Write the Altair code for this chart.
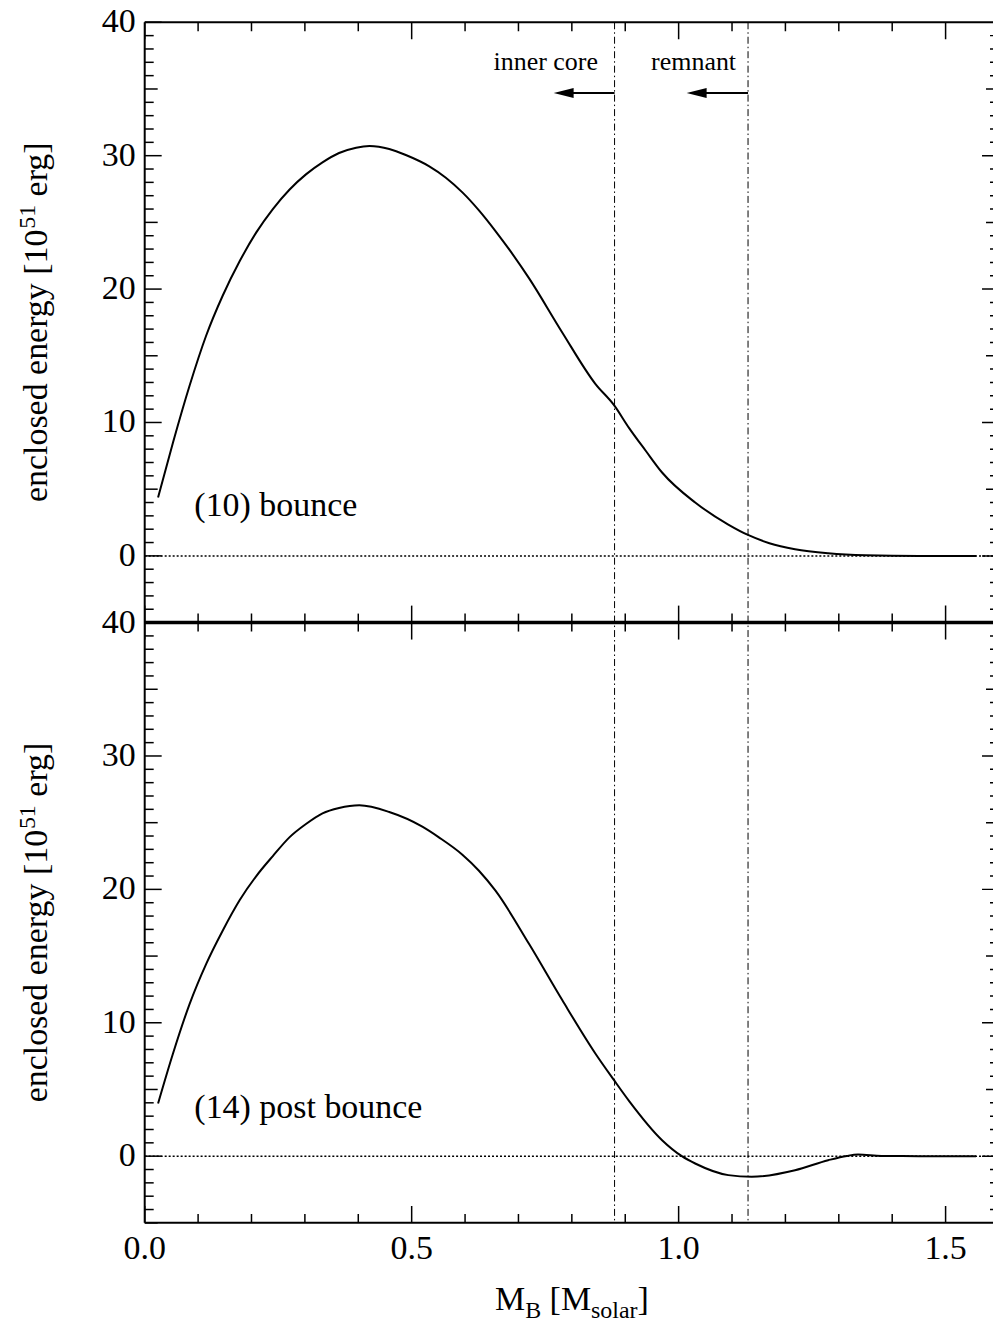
import altair as alt
import pandas as pd

FONT = "Liberation Serif"

# ---- data ----
top_mass = [0.025, 0.053, 0.084, 0.115, 0.146, 0.178, 0.209, 0.240, 0.271, 0.302,
            0.333, 0.364, 0.396, 0.421, 0.458, 0.489, 0.533, 0.564, 0.595, 0.626,
            0.657, 0.720, 0.782, 0.844, 0.879, 0.907, 0.938, 0.969, 1.031, 1.093,
            1.131, 1.170, 1.218, 1.280, 1.350, 1.450, 1.557]
top_energy = [4.37, 8.5, 12.75, 16.5, 19.5, 22.1, 24.25, 26.0, 27.45, 28.6,
              29.5, 30.2, 30.6, 30.72, 30.5, 30.05, 29.2, 28.35, 27.25, 25.9,
              24.35, 20.8, 16.75, 12.9, 11.3, 9.6, 7.9, 6.25, 4.0, 2.35,
              1.55, 0.95, 0.5, 0.2, 0.05, 0.0, 0.0]

bot_mass = [0.025, 0.053, 0.084, 0.115, 0.146, 0.178, 0.209, 0.240, 0.271, 0.302,
            0.333, 0.364, 0.402, 0.458, 0.520, 0.551, 0.595, 0.626, 0.657, 0.720,
            0.782, 0.844, 0.879, 0.907, 0.969, 1.006, 1.031, 1.093, 1.137, 1.218,
            1.280, 1.315, 1.336, 1.380, 1.450, 1.557]
bot_energy = [3.95, 7.7, 11.4, 14.4, 16.9, 19.2, 21.0, 22.5, 23.9, 24.9,
              25.7, 26.1, 26.3, 25.8, 24.7, 23.9, 22.6, 21.4, 19.9, 15.9,
              11.7, 7.7, 5.7, 4.15, 1.2, 0.0, -0.55, -1.42, -1.55, -1.05,
              -0.3, 0.02, 0.12, 0.02, 0.0, 0.0]

boundary_masses = [0.88, 1.13]          # inner core, remnant
arrow_tips = [0.766, 1.015]
region_labels = ["inner core", "remnant"]
region_label_mass = [0.751, 1.028]
panel_labels = ["(10) bounce", "(14) post bounce"]

x_tick_pos = [0.0, 0.5, 1.0, 1.5]
x_tick_text = ["0.0", "0.5", "1.0", "1.5"]
y_tick_pos = [0, 10, 20, 30, 40]
y_tick_text = ["0", "10", "20", "30", "40"]
x_major_ticks = [0.0, 0.5, 1.0, 1.5]
x_minor_ticks = [0.1, 0.2, 0.3, 0.4, 0.6, 0.7, 0.8, 0.9, 1.1, 1.2, 1.3, 1.4, 1.6]
y_major_ticks = [0, 10, 20, 30, 40]
y_medium_ticks = [-5, 5, 15, 25, 35]
y_minor_ticks = [v for v in range(-4, 40) if v % 5 != 0]

# the two panels share one vertical axis: the upper panel is drawn one panel span higher
SHIFT = 45
X_MAX = 1.6                 # right frame of the original figure (just off the page)
X_VISIBLE = 1.5888          # part of the axis that fits on the page
W = 850
H = 1203
MID = H / 2
RIGHT_EDGE = W * X_MAX / X_VISIBLE   # pixel position of the (clipped) right frame

xscale = alt.Scale(domain=[0, X_VISIBLE], nice=False, zero=False)
yscale = alt.Scale(domain=[-5, 40 + SHIFT], nice=False, zero=False)


def X(f):
    return alt.X(f, scale=xscale, axis=None)


def Y(f):
    return alt.Y(f, scale=yscale, axis=None)


layers = []

# frame (left, top, bottom; right side lies beyond the page)
for enc in [dict(x=alt.value(0), y=alt.value(0), y2=alt.value(H)),
            dict(y=alt.value(0), x=alt.value(0), x2=alt.value(W)),
            dict(y=alt.value(H), x=alt.value(0), x2=alt.value(W))]:
    layers.append(alt.Chart(pd.DataFrame({"a": [0]})).mark_rule(
        color="black", strokeWidth=2).encode(**enc))

# zero lines
layers.append(alt.Chart(pd.DataFrame({"z": [0, SHIFT]})).mark_rule(
    color="black", strokeWidth=1.5, strokeDash=[2, 2]).encode(y=Y("z:Q")))

# vertical boundaries through both panels
layers.append(alt.Chart(pd.DataFrame({"b": boundary_masses})).mark_rule(
    color="black", strokeWidth=1, strokeDash=[7, 3, 1.5, 3]).encode(x=X("b:Q")))

# curves
layers.append(alt.Chart(pd.DataFrame({"m": bot_mass, "e": bot_energy})).mark_line(
    color="black", strokeWidth=2, interpolate="monotone").encode(x=X("m:Q"), y=Y("e:Q")))
layers.append(alt.Chart(pd.DataFrame({"m": top_mass, "e": top_energy})).transform_calculate(
    es=f"datum.e + {SHIFT}").mark_line(
    color="black", strokeWidth=2, interpolate="monotone").encode(x=X("m:Q"), y=Y("es:Q")))

# middle boundary line
layers.append(alt.Chart(pd.DataFrame({"z": [40]})).mark_rule(
    color="black", strokeWidth=3.5).encode(y=Y("z:Q")))

# y ticks (inward, both sides; right ones hang from the clipped right frame)
def ytick_vals(vals):
    return vals + [v + SHIFT for v in vals if v + SHIFT != 40]

for vals, ln in [(ytick_vals(y_minor_ticks), 9), (ytick_vals(y_medium_ticks), 13),
                 (ytick_vals(y_major_ticks), 17)]:
    df = pd.DataFrame({"v": vals})
    layers.append(alt.Chart(df).mark_rule(color="black", strokeWidth=1.5).encode(
        y=Y("v:Q"), x=alt.value(0), x2=alt.value(ln)))
    layers.append(alt.Chart(df).mark_rule(color="black", strokeWidth=1.5, clip=True).encode(
        y=Y("v:Q"), x=alt.value(RIGHT_EDGE), x2=alt.value(RIGHT_EDGE - ln)))

# x ticks: bottom, top and on the shared middle edge (both directions)
for vals, ln in [(x_minor_ticks, 9), (x_major_ticks, 17)]:
    df = pd.DataFrame({"v": vals})
    for y1, y2 in [(H, H - ln), (0, ln), (MID - ln, MID + ln)]:
        layers.append(alt.Chart(df).mark_rule(color="black", strokeWidth=1.5, clip=True).encode(
            x=X("v:Q"), y=alt.value(y1), y2=alt.value(y2)))

# tick labels
ylab = pd.DataFrame({"yp": y_tick_pos, "yt": y_tick_text})
layers.append(alt.Chart(ylab).mark_text(
    font=FONT, fontSize=34, align="right", baseline="middle", color="black").encode(
    text="yt:N", x=alt.value(-9), y=Y("yp:Q")))
layers.append(alt.Chart(ylab).transform_calculate(pos=f"datum.yp + {SHIFT}").mark_text(
    font=FONT, fontSize=34, align="right", baseline="middle", color="black").encode(
    text="yt:N", x=alt.value(-9), y=Y("pos:Q")))
xlab = pd.DataFrame({"xp": x_tick_pos, "xt": x_tick_text})
layers.append(alt.Chart(xlab).mark_text(
    font=FONT, fontSize=34, align="center", baseline="alphabetic", color="black").encode(
    text="xt:N", x=X("xp:Q"), y=alt.value(H + 36)))

# panel labels (placed in data coordinates)
plab = pd.DataFrame({"t": panel_labels, "m": [0.093, 0.093], "e": [3.0 + SHIFT, 2.85]})
layers.append(alt.Chart(plab).mark_text(
    font=FONT, fontSize=34, align="left", baseline="alphabetic", color="black").encode(
    text="t:N", x=X("m:Q"), y=Y("e:Q")))

# region annotations with arrows (upper panel)
rlab = pd.DataFrame({"t": region_labels, "m": region_label_mass, "e": [36.4 + SHIFT] * 2})
layers.append(alt.Chart(rlab).mark_text(
    font=FONT, fontSize=26, align="center", baseline="alphabetic", color="black").encode(
    text="t:N", x=X("m:Q"), y=Y("e:Q")))
arrows = pd.DataFrame({"s": boundary_masses, "tip": arrow_tips, "e": [34.7 + SHIFT] * 2})
layers.append(alt.Chart(arrows).transform_calculate(base="datum.tip + 0.03").mark_rule(
    color="black", strokeWidth=2).encode(x=X("s:Q"), x2="base:Q", y=Y("e:Q")))
layers.append(alt.Chart(arrows).mark_point(
    shape="M-1,0L1,-0.5L1,0.5Z", size=400, filled=True, color="black",
    opacity=1, xOffset=10, strokeWidth=0).encode(x=X("tip:Q"), y=Y("e:Q")))

# y titles (composed so that the exponent is a real superscript)
for yc in [H / 4, 3 * H / 4]:
    base_x = -98
    y0 = yc + 180
    parts = [("enclosed energy [10", 34, base_x, y0),
             ("51", 24, base_x - 12, y0 - 273.8),
             ("erg]", 34, base_x, y0 - 273.8 - 24 - 8.5)]
    for txt, fs, px, py in parts:
        layers.append(alt.Chart(pd.DataFrame({"t": [txt]})).mark_text(
            font=FONT, fontSize=fs, angle=270, align="left", baseline="alphabetic",
            color="black").encode(text="t:N", x=alt.value(px), y=alt.value(py)))

# x title with subscripts, centred on the full (original) axis
x0 = RIGHT_EDGE / 2 - 77
parts = [("M", 34, x0, H + 87.5),
         ("B", 24, x0 + 30.2, H + 95),
         ("[M", 34, x0 + 30.2 + 16 + 8.5, H + 87.5),
         ("solar", 24, x0 + 30.2 + 16 + 8.5 + 41.5, H + 95),
         ("]", 34, x0 + 30.2 + 16 + 8.5 + 41.5 + 46.7, H + 87.5)]
for txt, fs, px, py in parts:
    layers.append(alt.Chart(pd.DataFrame({"t": [txt]})).mark_text(
        font=FONT, fontSize=fs, align="left", baseline="alphabetic",
        color="black").encode(text="t:N", x=alt.value(px), y=alt.value(py)))

chart = alt.layer(*layers).properties(
    width=W, height=H,
    padding={"left": 16, "top": 4, "right": 0, "bottom": 0},
    background="white").configure_view(stroke=None)

chart.save("out.html", embed_options={"renderer": "svg", "actions": False})
